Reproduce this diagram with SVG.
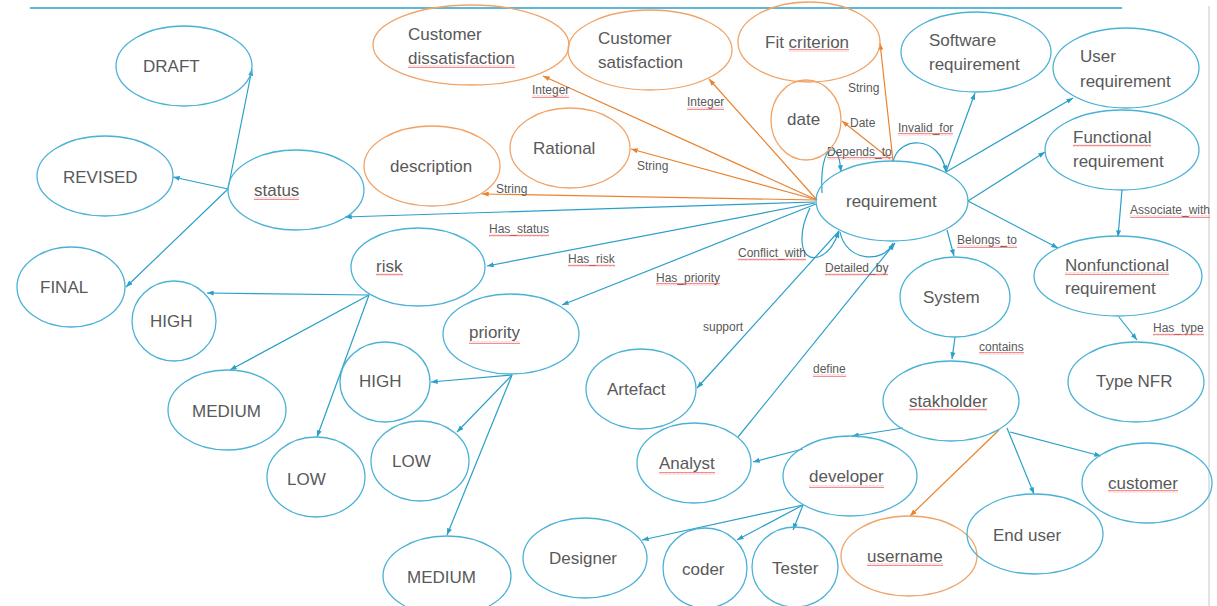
<svg xmlns="http://www.w3.org/2000/svg" width="1217" height="606" viewBox="0 0 1217 606">
  <style>
    .n { fill: none; stroke: #4bb2d6; stroke-width: 1.3; }
    .o { fill: none; stroke: #f0a468; stroke-width: 1.3; }
    .t { font-family: "Liberation Sans", Arial, sans-serif; font-size: 17px; fill: #595959; }
    .l { font-family: "Liberation Sans", Arial, sans-serif; font-size: 12px; fill: #595959; }
    .e { fill: none; stroke: #2a9fc9; stroke-width: 1.2; marker-end: url(#ab); }
    .eo { fill: none; stroke: #e9832f; stroke-width: 1.2; marker-end: url(#ao); }
    .sq { fill: url(#squiggle); }
  </style>
  <defs>
    <marker id="ab" viewBox="0 0 8 6" refX="8" refY="3" markerWidth="7" markerHeight="5" markerUnits="userSpaceOnUse" orient="auto">
      <path d="M0,0 L8,3 L0,6 z" fill="#2a9fc9"/>
    </marker>
    <marker id="ao" viewBox="0 0 8 6" refX="8" refY="3" markerWidth="7" markerHeight="5" markerUnits="userSpaceOnUse" orient="auto">
      <path d="M0,0 L8,3 L0,6 z" fill="#e9832f"/>
    </marker>
    <!-- spell-check style wavy underline -->
    <pattern id="squiggle" width="4" height="3" patternUnits="userSpaceOnUse">
      <polyline points="0,2.4 1,0.8 2,2.4 3,0.8 4,2.4" fill="none" stroke="#ec5656" stroke-width="0.7"/>
    </pattern>
  </defs>

  <!-- page frame lines -->
  <line x1="30" y1="8" x2="1122" y2="8" stroke="#2aa0c8" stroke-width="1.3"/>
  <line x1="1209" y1="6" x2="1209" y2="606" stroke="#d0d0d0" stroke-width="1.2"/>

  <g id="connectors">
    <!-- status values -->
    <path class="e" d="M228,189 L252,69"/>
    <path class="e" d="M228,189 L173,177"/>
    <path class="e" d="M228,189 L126,287"/>
    <!-- requirement hub, blue -->
    <path class="e" d="M815,202 L345,217"/>
    <path class="e" d="M815,203 L487,266"/>
    <path class="e" d="M816,204 L562,305"/>
    <path class="e" d="M839,231 L697,388"/>
    <path class="e" d="M738,437 L895,243"/>
    <!-- requirement hub, orange attributes -->
    <path class="eo" d="M817,200 L543,76"/>
    <path class="eo" d="M817,200 L709,79"/>
    <path class="eo" d="M817,200 L631,149"/>
    <path class="eo" d="M817,200 L482,194"/>
    <path class="eo" d="M893,161 L880,43"/>
    <path class="eo" d="M890,159 L842,121"/>
    <!-- right side -->
    <path class="e" d="M946,172 L975,93"/>
    <path class="e" d="M946,172 L1073,98"/>
    <path class="e" d="M968,201 L1045,152"/>
    <path class="e" d="M968,201 L1058,248"/>
    <path class="e" d="M947,230 L954,256"/>
    <path class="e" d="M1122,190 L1118,237"/>
    <path class="e" d="M1119,317 L1137,340"/>
    <path class="e" d="M955,337 L952,359"/>
    <!-- stakeholders -->
    <path class="e" d="M903,428 L852,436"/>
    <path class="eo" d="M999,430 L910,516"/>
    <path class="e" d="M1007,428 L1034,494"/>
    <path class="e" d="M1010,432 L1101,456"/>
    <path class="e" d="M803,449 L753,462"/>
    <path class="e" d="M803,505 L642,540"/>
    <path class="e" d="M803,505 L737,540"/>
    <path class="e" d="M803,505 L793,530"/>
    <!-- risk values -->
    <path class="e" d="M369,295 L207,293"/>
    <path class="e" d="M369,295 L230,370"/>
    <path class="e" d="M369,295 L317,437"/>
    <!-- priority values -->
    <path class="e" d="M512,375 L431,382"/>
    <path class="e" d="M512,375 L457,432"/>
    <path class="e" d="M512,375 L447,535"/>
    <!-- self loops on requirement -->
    <path class="e" d="M822,193 C820,160 828,148 833,150 C839,152 840,162 841,172"/>
    <path class="e" d="M893,162 C898,136 940,134 946,172"/>
    <path class="e" d="M810,208 C797,235 800,262 818,257 C828,254 835,243 839,231"/>
    <path class="e" d="M840,232 C846,262 884,264 893,243"/>

    <!-- connector labels -->
    <text class="l" x="532" y="94">Integer</text><rect class="sq" x="532" y="95" width="37" height="3"/>
    <text class="l" x="687" y="106">Integer</text><rect class="sq" x="687" y="107" width="37" height="3"/>
    <text class="l" x="637" y="170">String</text>
    <text class="l" x="496" y="193">String</text>
    <text class="l" x="489" y="233">Has_status</text><rect class="sq" x="489" y="234" width="60" height="3"/>
    <text class="l" x="568" y="263">Has_risk</text><rect class="sq" x="568" y="264" width="47" height="3"/>
    <text class="l" x="656" y="282">Has_priority</text><rect class="sq" x="656" y="283" width="64" height="3"/>
    <text class="l" x="738" y="257">Conflict_with</text><rect class="sq" x="738" y="258" width="68" height="3"/>
    <text class="l" x="703" y="331">support</text>
    <text class="l" x="813" y="373">define</text><rect class="sq" x="813" y="374" width="33" height="3"/>
    <text class="l" x="825" y="272">Detailed_by</text><rect class="sq" x="825" y="273" width="63" height="3"/>
    <text class="l" x="957" y="244">Belongs_to</text><rect class="sq" x="957" y="245" width="60" height="3"/>
    <text class="l" x="979" y="351">contains</text><rect class="sq" x="979" y="352" width="45" height="3"/>
    <text class="l" x="1153" y="332">Has_type</text><rect class="sq" x="1153" y="333" width="51" height="3"/>
    <text class="l" x="1130" y="214">Associate_with</text><rect class="sq" x="1130" y="215" width="80" height="3"/>
    <text class="l" x="898" y="132">Invalid_for</text><rect class="sq" x="898" y="133" width="55" height="3"/>
    <text class="l" x="827" y="156">Depends_to</text><rect class="sq" x="827" y="157" width="65" height="3"/>
    <text class="l" x="848" y="92">String</text>
    <text class="l" x="850" y="127">Date</text>
  </g>

  <g id="draft"><ellipse class="n" cx="184" cy="66" rx="68" ry="40"/><text class="t" x="143" y="72">DRAFT</text></g>
  <g id="revised"><ellipse class="n" cx="105" cy="176" rx="68" ry="40"/><text class="t" x="63" y="183">REVISED</text></g>
  <g id="status"><ellipse class="n" cx="296" cy="190" rx="68" ry="40"/><text class="t" x="254" y="196">status</text><rect class="sq" x="254" y="197" width="45" height="3"/></g>
  <g id="final"><ellipse class="n" cx="71" cy="287" rx="54" ry="40"/><text class="t" x="40" y="293">FINAL</text></g>

  <g id="risk-high"><ellipse class="n" cx="174" cy="321" rx="42" ry="40"/><text class="t" x="150" y="327">HIGH</text></g>
  <g id="risk-medium"><ellipse class="n" cx="227" cy="410" rx="59" ry="40"/><text class="t" x="192" y="417">MEDIUM</text></g>
  <g id="risk-low"><ellipse class="n" cx="316" cy="477" rx="49" ry="40"/><text class="t" x="287" y="485">LOW</text></g>
  <g id="risk"><ellipse class="n" cx="418" cy="267" rx="67" ry="39"/><text class="t" x="376" y="272">risk</text><rect class="sq" x="376" y="273" width="27" height="3"/></g>

  <g id="priority"><ellipse class="n" cx="511" cy="334" rx="68" ry="40"/><text class="t" x="469" y="338">priority</text><rect class="sq" x="469" y="341" width="51" height="3"/></g>
  <g id="priority-high"><ellipse class="n" cx="385" cy="382" rx="45" ry="40"/><text class="t" x="359" y="387">HIGH</text></g>
  <g id="priority-low"><ellipse class="n" cx="420" cy="461" rx="49" ry="40"/><text class="t" x="392" y="467">LOW</text></g>
  <g id="priority-medium"><ellipse class="n" cx="447" cy="576" rx="64" ry="40"/><text class="t" x="407" y="583">MEDIUM</text></g>

  <g id="cust-dissatisfaction"><ellipse class="o" cx="471" cy="45" rx="98" ry="40"/><text class="t" x="408" y="40">Customer</text><text class="t" x="408" y="64">dissatisfaction</text><rect class="sq" x="408" y="65" width="107" height="3"/></g>
  <g id="cust-satisfaction"><ellipse class="o" cx="650" cy="50" rx="82" ry="40"/><text class="t" x="598" y="44">Customer</text><text class="t" x="598" y="68">satisfaction</text></g>
  <g id="fit-criterion"><ellipse class="o" cx="809" cy="42" rx="71" ry="40"/><text class="t" x="765" y="48">Fit criterion</text><rect class="sq" x="789" y="49" width="60" height="3"/></g>
  <g id="date"><ellipse class="o" cx="806" cy="120" rx="35" ry="40"/><text class="t" x="787" y="125">date</text></g>
  <g id="rational"><ellipse class="o" cx="570" cy="148" rx="60" ry="40"/><text class="t" x="533" y="154">Rational</text></g>
  <g id="description"><ellipse class="o" cx="432" cy="166" rx="68" ry="40"/><text class="t" x="390" y="172">description</text></g>

  <g id="requirement"><ellipse class="n" cx="892" cy="201" rx="76" ry="40"/><text class="t" x="846" y="207">requirement</text></g>
  <g id="software-req"><ellipse class="n" cx="976" cy="52" rx="75" ry="40"/><text class="t" x="929" y="46">Software</text><text class="t" x="929" y="70">requirement</text></g>
  <g id="user-req"><ellipse class="n" cx="1126" cy="68" rx="73" ry="40"/><text class="t" x="1080" y="62">User</text><text class="t" x="1080" y="87">requirement</text></g>
  <g id="functional-req"><ellipse class="n" cx="1122" cy="150" rx="77" ry="40"/><text class="t" x="1073" y="143">Functional</text><rect class="sq" x="1073" y="144" width="78" height="3"/><text class="t" x="1073" y="167">requirement</text></g>
  <g id="nonfunctional-req"><ellipse class="n" cx="1118" cy="276" rx="84" ry="40"/><text class="t" x="1065" y="271">Nonfunctional</text><rect class="sq" x="1065" y="272" width="104" height="3"/><text class="t" x="1065" y="294">requirement</text></g>
  <g id="type-nfr"><ellipse class="n" cx="1136" cy="382" rx="68" ry="40"/><text class="t" x="1096" y="387">Type NFR</text></g>
  <g id="system"><ellipse class="n" cx="955" cy="297" rx="55" ry="40"/><text class="t" x="923" y="303">System</text></g>
  <g id="stakholder"><ellipse class="n" cx="951" cy="401" rx="68" ry="40"/><text class="t" x="909" y="407">stakholder</text><rect class="sq" x="909" y="408" width="78" height="3"/></g>

  <g id="artefact"><ellipse class="n" cx="641" cy="389" rx="55" ry="40"/><text class="t" x="607" y="395">Artefact</text></g>
  <g id="analyst"><ellipse class="n" cx="694" cy="463" rx="57" ry="40"/><text class="t" x="659" y="469">Analyst</text><rect class="sq" x="659" y="472" width="56" height="3"/></g>
  <g id="developer"><ellipse class="n" cx="850" cy="476" rx="67" ry="40"/><text class="t" x="809" y="482">developer</text><rect class="sq" x="809" y="485" width="75" height="3"/></g>
  <g id="designer"><ellipse class="n" cx="585" cy="558" rx="62" ry="40"/><text class="t" x="549" y="564">Designer</text></g>
  <g id="coder"><ellipse class="n" cx="705" cy="568" rx="42" ry="40"/><text class="t" x="682" y="575">coder</text></g>
  <g id="tester"><ellipse class="n" cx="795" cy="567" rx="43" ry="40"/><text class="t" x="772" y="574">Tester</text></g>
  <g id="username"><ellipse class="o" cx="909" cy="556" rx="68" ry="40"/><text class="t" x="867" y="562">username</text><rect class="sq" x="867" y="563" width="76" height="3"/></g>
  <g id="end-user"><ellipse class="n" cx="1035" cy="534" rx="68" ry="40"/><text class="t" x="993" y="541">End user</text></g>
  <g id="customer"><ellipse class="n" cx="1147" cy="483" rx="65" ry="40"/><text class="t" x="1108" y="489">customer</text><rect class="sq" x="1108" y="490" width="70" height="3"/></g>
</svg>
